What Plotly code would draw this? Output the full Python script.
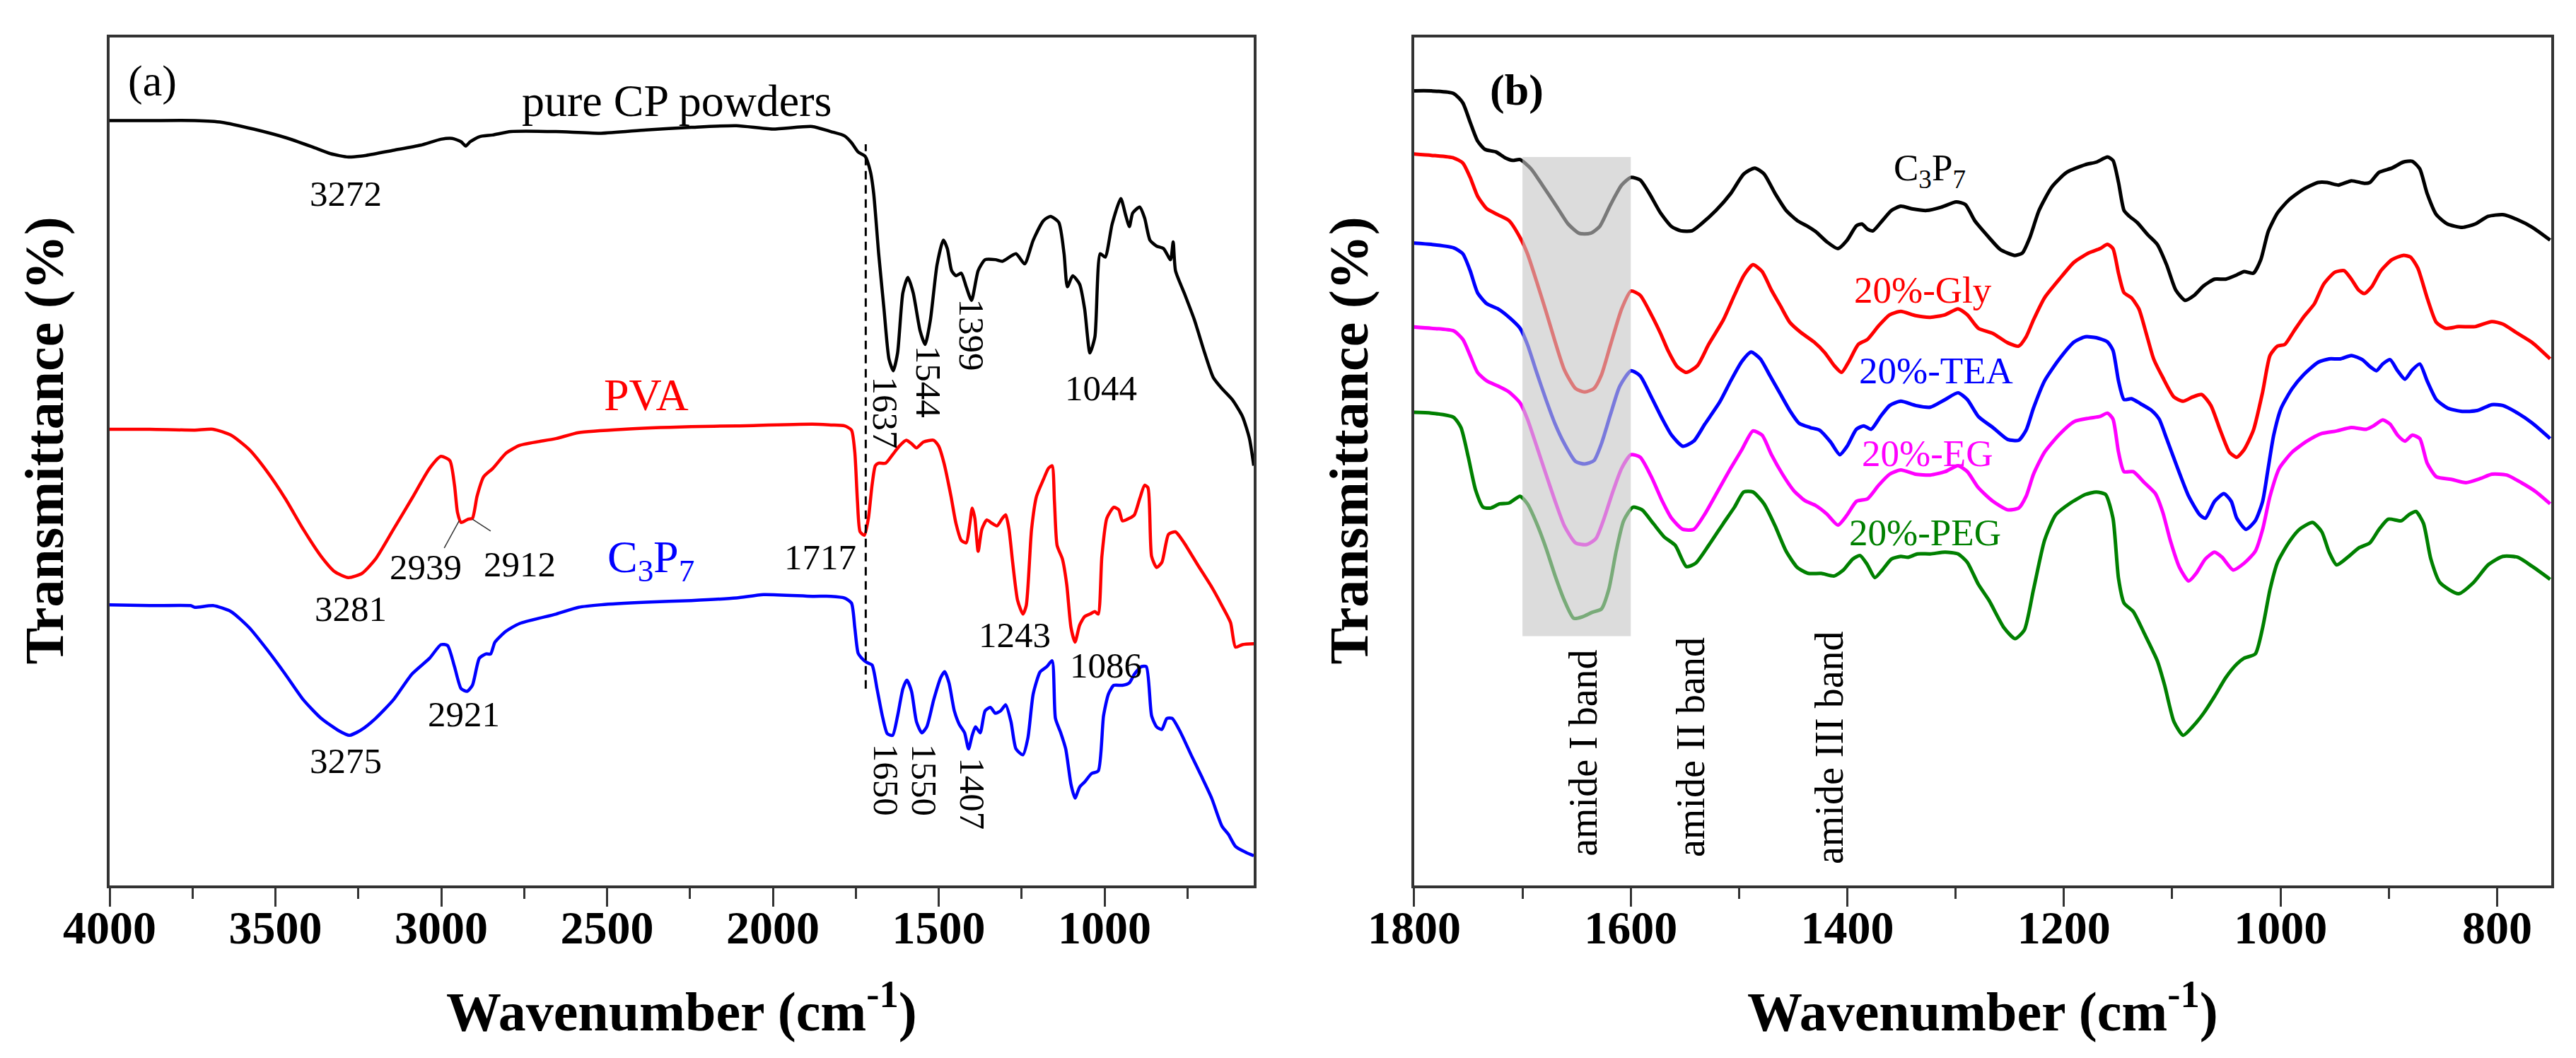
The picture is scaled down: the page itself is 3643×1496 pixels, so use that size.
import plotly.graph_objects as go
from plotly.subplots import make_subplots

# ---- panel (a): full range spectra ----
cp_wn = [4004, 3879, 3743, 3661, 3566, 3470, 3389, 3334, 3280, 3226, 3144, 3062, 3001, 2967, 2940, 2926,
         2913, 2885, 2845, 2790, 2654, 2518, 2382, 2246, 2110, 2001, 1881, 1825, 1784, 1763, 1743, 1722,
         1706, 1696, 1681, 1665, 1650, 1637, 1624, 1608, 1593, 1577, 1556, 1541, 1525, 1505, 1486, 1474,
         1461, 1448, 1432, 1417, 1401, 1381, 1360, 1329, 1308, 1267, 1241, 1215, 1184, 1163, 1138, 1122,
         1112, 1096, 1075, 1060, 1044, 1029, 1013, 998, 977, 951, 936, 925, 915, 894, 879, 863, 843, 822,
         801, 793, 786, 760, 729, 698, 672, 646, 615, 584, 563, 550]
cp_t = [90.2, 90.2, 90.2, 90.0, 89.2, 88.2, 87.1, 86.3, 85.9, 86.1, 86.7, 87.3, 88.0, 88.1, 87.7, 87.2,
        87.7, 88.3, 88.5, 88.9, 88.9, 88.7, 89.1, 89.4, 89.6, 89.2, 89.5, 88.9, 88.4, 87.6, 86.5, 86.0,
        84.2, 81.6, 74.5, 68.0, 62.1, 60.7, 62.8, 69.9, 71.7, 69.9, 65.4, 63.8, 66.7, 73.2, 76.1, 75.1,
        72.5, 71.9, 72.2, 70.6, 69.0, 72.5, 73.8, 73.8, 73.6, 74.5, 73.3, 76.1, 78.4, 78.9, 78.2, 74.5,
        70.6, 71.9, 70.9, 68.0, 62.8, 64.7, 74.5, 74.1, 78.0, 81.0, 79.0, 77.7, 79.3, 80.0, 78.7, 76.1,
        75.4, 75.1, 73.8, 75.9, 72.5, 69.9, 66.7, 62.8, 59.9, 58.6, 57.3, 55.3, 52.7, 49.5]

pva_wn = [4004, 3879, 3743, 3688, 3634, 3579, 3525, 3470, 3416, 3362, 3321, 3280, 3239, 3198, 3144, 3089,
          3035, 3001, 2974, 2960, 2951, 2940, 2919, 2906, 2892, 2872, 2844, 2804, 2763, 2654, 2586, 2450,
          2246, 2110, 1881, 1825, 1784, 1763, 1753, 1745, 1737, 1724, 1712, 1701, 1691, 1681, 1660, 1639,
          1619, 1598, 1582, 1567, 1546, 1515, 1500, 1484, 1463, 1448, 1432, 1417, 1406, 1399, 1391, 1381,
          1370, 1355, 1339, 1324, 1308, 1298, 1288, 1277, 1262, 1246, 1236, 1220, 1205, 1184, 1169, 1158,
          1151, 1143, 1127, 1114, 1101, 1089, 1075, 1060, 1044, 1029, 1019, 1008, 993, 972, 957, 946, 925,
          910, 894, 879, 869, 858, 843, 827, 807, 786, 760, 719, 677, 646, 620, 605, 584, 550]
pva_t = [53.8, 53.8, 53.7, 53.8, 53.1, 51.4, 48.8, 45.6, 42.0, 38.8, 37.0, 36.3, 36.8, 38.5, 42.0, 45.6,
         49.2, 50.6, 50.1, 47.2, 44.0, 42.8, 43.2, 43.3, 45.9, 48.2, 49.2, 51.0, 51.9, 52.7, 53.4, 53.8,
         54.1, 54.2, 54.4, 54.3, 54.2, 53.7, 51.1, 45.3, 41.7, 41.3, 43.3, 47.2, 49.5, 49.8, 49.8, 50.8,
         51.8, 52.5, 52.1, 51.6, 52.3, 52.5, 51.8, 49.8, 45.9, 42.7, 40.7, 40.4, 42.7, 44.5, 43.3, 39.4,
         42.0, 43.1, 42.7, 42.4, 43.3, 43.7, 42.0, 38.1, 33.6, 32.0, 33.0, 42.0, 45.9, 47.9, 49.2, 49.5,
         45.3, 40.1, 38.5, 35.5, 30.4, 28.7, 30.7, 31.7, 32.0, 32.3, 32.0, 38.8, 43.3, 44.6, 44.3, 43.0, 43.3,
         43.7, 45.6, 47.2, 46.9, 38.8, 37.5, 38.1, 41.4, 41.7, 40.4, 37.8, 35.2, 33.0, 31.0, 28.1, 28.4, 28.5]

c3p7a_wn = [4004, 3879, 3756, 3743, 3688, 3634, 3579, 3525, 3470, 3416, 3362, 3307, 3277, 3239, 3198, 3144,
            3089, 3035, 3001, 2981, 2960, 2940, 2922, 2906, 2885, 2865, 2851, 2838, 2804, 2763, 2654, 2586,
            2518, 2382, 2246, 2110, 2028, 1881, 1825, 1784, 1763, 1753, 1743, 1732, 1717, 1701, 1686, 1670,
            1655, 1639, 1624, 1608, 1596, 1582, 1567, 1551, 1536, 1515, 1494, 1482, 1469, 1453, 1438, 1422,
            1410, 1399, 1389, 1375, 1360, 1344, 1329, 1313, 1298, 1282, 1267, 1246, 1231, 1215, 1194, 1174,
            1158, 1148, 1132, 1117, 1101, 1089, 1075, 1060, 1039, 1019, 1003, 988, 972, 946, 925, 910, 889,
            874, 858, 843, 827, 812, 796, 770, 739, 708, 677, 646, 626, 605, 574, 550]
c3p7a_t = [33.1, 33.0, 33.0, 32.8, 33.0, 32.3, 30.4, 27.8, 24.9, 21.9, 19.7, 18.2, 17.7, 18.4, 19.7, 21.9,
           24.9, 26.8, 28.4, 28.3, 25.8, 23.2, 22.9, 23.6, 26.8, 27.3, 27.3, 28.7, 30.0, 30.9, 32.0, 32.8,
           33.1, 33.4, 33.6, 33.9, 34.3, 34.1, 34.1, 33.9, 33.3, 30.4, 27.4, 26.8, 26.3, 26.0, 23.2, 20.0,
           17.9, 17.7, 20.0, 23.2, 24.2, 22.9, 19.3, 18.0, 18.7, 21.9, 24.5, 25.2, 23.9, 20.6, 19.0, 18.0,
           16.1, 17.7, 18.7, 18.0, 20.6, 21.0, 20.3, 20.6, 21.3, 19.3, 16.1, 15.4, 17.4, 22.6, 25.2, 25.8,
           26.5, 19.7, 18.0, 16.1, 11.9, 10.3, 11.6, 12.2, 13.2, 13.5, 20.0, 22.6, 23.6, 23.6, 23.9, 24.9, 25.8,
           25.8, 20.0, 18.7, 18.4, 19.7, 19.7, 18.0, 15.4, 12.9, 10.3, 7.0, 6.0, 4.6, 3.9, 3.5]

# peak / sample labels of panel (a)
a_text = ["(a)", "pure CP powders", "3272", "PVA", "2939", "2912", "3281", "C<sub>3</sub>P<sub>7</sub>",
          "2921", "3275", "1717", "1637", "1544", "1399", "1044", "1243", "1086", "1650", "1550", "1407"]
a_wn = [3872, 2291, 3287, 2382, 3048, 2764, 3272, 2368, 2931, 3287, 1857, 1662, 1531, 1400, 1011, 1271,
        996, 1660, 1545, 1398]
a_t = [94.9, 92.5, 81.6, 57.8, 37.5, 37.9, 32.6, 38.4, 20.2, 14.7, 38.7, 55.8, 59.4, 64.9, 58.6, 29.5,
       25.9, 12.4, 12.4, 10.8]
a_angle = [0, 0, 0, 0, 0, 0, 0, 0, 0, 0, 0, 90, 90, 90, 0, 0, 0, 90, 90, 90]
a_color = ["black", "black", "black", "red", "black", "black", "black", "blue", "black", "black",
           "black", "black", "black", "black", "black", "black", "black", "black", "black", "black"]
a_size = [62, 64, 51, 64, 51, 51, 51, 64, 51, 51, 51, 51, 51, 51, 51, 51, 51, 51, 51, 51]

# leader lines for 2939 / 2912 and the dashed guide at 1717
lead1_wn, lead1_t = [2991, 2946], [39.8, 43.0]
lead2_wn, lead2_t = [2851, 2906], [41.8, 43.2]
guide_wn = 1720
guide_t = [23.2, 87.4]

# ---- panel (b): 1800-750 region ----
b_cp_wn = [1804.6, 1784.1, 1763.6, 1755.1, 1748.3, 1741.5, 1734.6, 1724.4, 1715.9, 1709.0, 1702.2, 1692.0,
           1681.7, 1668.1, 1657.8, 1647.6, 1637.4, 1628.8, 1618.6, 1608.4, 1599.8, 1591.3, 1582.8, 1572.5,
           1562.3, 1553.7, 1543.5, 1535.0, 1521.3, 1507.7, 1495.7, 1485.5, 1476.9, 1466.7, 1456.5, 1446.2,
           1437.7, 1429.2, 1418.9, 1408.7, 1400.2, 1391.6, 1386.5, 1381.4, 1376.3, 1367.7, 1359.2, 1350.7,
           1340.4, 1326.8, 1313.1, 1299.5, 1291.0, 1282.4, 1269.1, 1258.8, 1245.2, 1238.3, 1231.5, 1223.0,
           1211.0, 1197.4, 1180.3, 1170.1, 1159.8, 1154.7, 1149.6, 1144.5, 1139.4, 1132.5, 1122.3, 1113.8,
           1105.2, 1096.7, 1088.2, 1079.6, 1071.1, 1060.9, 1050.6, 1040.4, 1033.6, 1025.0, 1018.2, 1011.4,
           1002.8, 992.6, 978.9, 965.3, 956.8, 946.5, 934.6, 922.6, 917.5, 909.0, 897.1, 886.8, 878.3, 871.4,
           864.6, 856.1, 845.8, 832.2, 820.3, 808.3, 794.7, 781.0, 767.3, 751.0]
b_cp_t = [93.7, 93.7, 93.4, 92.3, 90.0, 87.8, 86.8, 86.5, 85.8, 85.5, 85.6, 84.5,
          82.6, 80.0, 78.0, 76.9, 76.9, 77.7, 80.3, 82.6, 83.5, 83.2, 81.6, 79.3,
          77.7, 77.2, 77.2, 78.0, 79.6, 81.6, 83.9, 84.6, 83.9, 81.6, 79.6, 78.4,
          77.8, 77.1, 75.9, 75.1, 76.1, 77.8, 78.0, 77.4, 77.2, 78.4, 79.6, 80.1,
          79.8, 79.6, 80.0, 80.6, 80.3, 78.4, 76.4, 75.0, 74.3, 74.6, 76.4, 79.6,
          82.4, 84.1, 85.0, 85.3, 85.9, 85.5, 82.9, 79.6, 78.9, 78.2, 76.7, 75.6,
          73.2, 70.2, 69.0, 69.6, 70.7, 71.5, 71.5, 72.0, 72.4, 72.2, 73.8, 77.1,
          79.3, 80.8, 82.1, 82.9, 82.9, 82.6, 83.1, 82.8, 82.9, 84.1, 84.6, 85.3, 85.4, 84.5,
          81.6, 79.1, 78.0, 77.6, 78.0, 78.9, 79.1, 78.5, 77.6, 76.1]

gly_wn = [1804.6, 1784.1, 1763.6, 1755.1, 1748.3, 1741.5, 1732.9, 1722.7, 1712.4, 1702.2, 1695.4, 1686.9,
          1678.3, 1669.8, 1661.3, 1651.0, 1642.5, 1634.0, 1627.1, 1618.6, 1608.4, 1599.8, 1591.3, 1581.0,
          1572.5, 1565.7, 1557.2, 1548.6, 1538.4, 1528.1, 1514.5, 1504.3, 1495.7, 1487.2, 1478.7, 1470.1,
          1461.6, 1453.1, 1442.8, 1430.9, 1420.6, 1412.1, 1405.3, 1398.5, 1389.9, 1381.4, 1371.1, 1360.9,
          1350.7, 1337.0, 1323.4, 1309.7, 1297.8, 1289.2, 1279.0, 1265.6, 1252.0, 1241.8, 1234.9, 1228.1,
          1217.9, 1204.2, 1190.6, 1176.9, 1166.7, 1159.8, 1154.7, 1149.6, 1144.5, 1137.7, 1130.8, 1124.0,
          1117.2, 1108.7, 1098.4, 1089.9, 1081.3, 1072.8, 1064.3, 1055.7, 1047.2, 1040.4, 1033.6, 1025.0,
          1016.5, 1009.7, 1002.8, 996.0, 987.5, 978.9, 968.7, 960.2, 950.0, 941.4, 934.6, 927.8, 922.6,
          915.8, 907.3, 897.1, 886.8, 880.0, 873.2, 864.6, 856.1, 847.6, 835.6, 820.3, 804.9, 794.7, 781.0,
          767.3, 751.0]
gly_t = [86.3, 86.1, 85.8, 85.2, 83.5, 81.3, 79.8, 79.1, 78.4, 76.4, 74.5, 71.2,
         67.7, 64.1, 60.8, 58.6, 58.2, 58.6, 60.2, 63.8, 68.0, 70.1, 69.6, 67.3,
         65.1, 63.1, 61.2, 60.5, 61.3, 63.8, 66.7, 69.6, 71.9, 73.2, 72.4, 70.2,
         68.3, 66.4, 65.2, 64.1, 62.8, 61.3, 60.5, 61.8, 63.8, 64.4, 66.0, 67.3,
         67.7, 67.2, 67.0, 67.3, 68.0, 67.3, 65.7, 65.1, 64.0, 63.6, 64.7, 66.7,
         69.3, 71.5, 73.5, 74.6, 75.1, 75.6, 75.1, 72.2, 69.9, 69.3, 68.0, 65.1,
         62.1, 59.9, 57.6, 57.1, 57.6, 57.9, 56.6, 53.7, 51.1, 50.5, 51.4, 53.7,
         58.2, 62.5, 63.6, 63.8, 65.4, 67.0, 68.6, 70.9, 72.3, 72.5, 71.5, 70.2, 69.8,
         70.6, 72.5, 73.8, 74.3, 74.1, 72.8, 69.3, 66.4, 65.7, 65.9, 65.9, 66.5, 66.2, 65.1,
         64.0, 62.1]

tea_wn = [1804.6, 1784.1, 1763.6, 1755.1, 1748.3, 1741.5, 1732.9, 1722.7, 1712.4, 1702.2, 1695.4, 1686.9,
          1678.3, 1669.8, 1661.3, 1651.0, 1642.5, 1634.0, 1627.1, 1618.6, 1610.1, 1599.8, 1591.3, 1581.0,
          1570.8, 1562.3, 1552.0, 1541.8, 1531.6, 1517.9, 1507.7, 1497.4, 1488.9, 1480.4, 1471.8, 1461.6,
          1453.1, 1444.5, 1434.3, 1425.8, 1415.5, 1407.0, 1400.2, 1391.6, 1384.8, 1378.0, 1369.4, 1360.9,
          1350.7, 1337.0, 1323.4, 1309.7, 1297.8, 1289.2, 1279.0, 1265.6, 1252.0, 1241.8, 1234.9, 1228.1,
          1217.9, 1204.2, 1190.6, 1180.3, 1170.1, 1159.8, 1154.7, 1149.6, 1144.5, 1137.7, 1129.1, 1118.9,
          1112.1, 1105.2, 1095.0, 1084.8, 1074.5, 1069.4, 1060.9, 1052.3, 1045.5, 1040.4, 1031.9, 1023.3,
          1016.5, 1011.4, 1006.3, 999.4, 989.2, 978.9, 965.3, 955.1, 944.8, 934.6, 924.4, 917.5, 911.4,
          905.6, 898.8, 891.9, 885.1, 878.3, 871.4, 864.6, 856.1, 845.8, 832.2, 818.5, 804.9, 794.7, 781.0,
          767.3, 751.0]
tea_t = [75.8, 75.6, 75.2, 74.5, 72.5, 69.9, 68.6, 68.0, 67.0, 65.7, 63.8, 60.5,
         57.3, 54.4, 52.1, 50.0, 49.7, 50.1, 52.1, 55.6, 58.9, 60.7, 60.1, 57.6,
         55.0, 53.1, 51.8, 52.4, 54.4, 57.0, 59.5, 61.8, 62.9, 62.1, 60.2, 57.9,
         56.0, 54.5, 54.0, 53.7, 52.3, 50.8, 51.8, 53.8, 54.2, 53.8, 55.3, 56.6,
         57.1, 56.6, 56.4, 57.3, 58.1, 57.3, 55.3, 54.0, 52.6, 52.5, 53.7, 56.3,
         59.5, 62.1, 64.1, 64.7, 64.6, 64.1, 63.1, 59.5, 57.3, 57.4, 56.8, 56.0,
         55.0, 52.7, 49.2, 45.9, 43.7, 43.3, 45.3, 46.2, 45.3, 43.3, 42.0, 43.0,
         45.3, 49.2, 53.1, 56.3, 58.6, 60.2, 61.7, 62.1, 62.1, 62.5, 62.0, 61.2, 60.7,
         61.5, 62.0, 60.7, 59.7, 60.8, 61.5, 59.5, 57.3, 56.3, 55.9, 56.0, 56.7, 56.6, 55.7,
         54.5, 52.7]

eg_wn = [1804.6, 1784.1, 1763.6, 1755.1, 1748.3, 1741.5, 1732.9, 1722.7, 1712.4, 1702.2, 1695.4, 1686.9,
         1678.3, 1669.8, 1661.3, 1651.0, 1640.8, 1632.2, 1625.4, 1616.9, 1608.4, 1599.8, 1591.3, 1581.0,
         1570.8, 1562.3, 1552.0, 1541.8, 1531.6, 1517.9, 1507.7, 1497.4, 1487.2, 1478.7, 1470.1, 1459.9,
         1449.7, 1439.4, 1429.2, 1418.9, 1408.7, 1400.2, 1391.6, 1381.4, 1371.1, 1360.9, 1350.7, 1337.0,
         1323.4, 1309.7, 1297.8, 1289.2, 1279.0, 1265.6, 1252.0, 1241.8, 1234.9, 1228.1, 1217.9, 1204.2,
         1190.6, 1176.9, 1166.7, 1159.8, 1154.7, 1149.6, 1144.5, 1136.0, 1125.7, 1115.5, 1108.7, 1101.8,
         1093.3, 1084.8, 1077.9, 1069.4, 1060.9, 1054.0, 1043.8, 1033.6, 1023.3, 1016.5, 1009.7, 1001.1,
         989.2, 975.5, 961.9, 948.2, 934.6, 920.9, 914.1, 905.6, 898.8, 891.9, 885.1, 878.3, 871.4, 864.6,
         856.1, 842.4, 828.8, 815.1, 804.9, 791.2, 777.6, 763.9, 751.0]
eg_t = [65.9, 65.7, 65.4, 64.4, 62.5, 60.5, 59.5, 58.9, 58.2, 56.9, 55.0, 51.8,
        48.5, 45.3, 42.4, 40.4, 40.2, 40.9, 43.0, 46.3, 49.2, 50.8, 50.5, 48.2,
        45.3, 43.3, 42.0, 42.0, 43.8, 46.9, 49.2, 51.4, 53.6, 53.1, 50.8, 48.5,
        46.6, 45.4, 44.8, 43.8, 42.5, 43.7, 45.3, 45.6, 47.2, 48.5, 49.0, 48.5,
        48.4, 48.8, 49.5, 48.8, 46.9, 45.3, 44.3, 44.5, 45.9, 48.5, 51.1, 53.2,
        54.7, 55.1, 55.3, 55.7, 55.0, 51.1, 48.8, 48.8, 47.5, 46.2, 44.0, 40.7,
        37.5, 35.9, 36.8, 38.5, 39.3, 38.7, 37.2, 38.0, 39.4, 42.0, 45.9, 49.2,
        51.1, 52.4, 53.3, 53.6, 54.0, 53.8, 54.2, 54.9, 54.4, 53.1, 52.4, 53.1, 52.7, 49.8,
        48.2, 47.9, 47.5, 48.0, 48.5, 48.4, 47.5, 46.4, 45.0]

peg_wn = [1804.6, 1784.1, 1763.6, 1756.8, 1750.0, 1743.2, 1736.3, 1729.5, 1721.0, 1712.4, 1702.2, 1695.4,
          1686.9, 1678.3, 1669.8, 1661.3, 1652.7, 1644.2, 1635.7, 1627.1, 1620.3, 1613.5, 1606.6, 1598.1,
          1589.6, 1579.3, 1569.1, 1558.9, 1548.6, 1540.1, 1528.1, 1514.5, 1504.3, 1495.7, 1487.2, 1476.9,
          1466.7, 1456.5, 1446.2, 1436.0, 1424.1, 1412.1, 1403.6, 1395.0, 1388.2, 1381.4, 1374.6, 1367.7,
          1359.2, 1350.7, 1343.8, 1335.3, 1323.4, 1309.7, 1297.8, 1289.2, 1279.0, 1269.1, 1255.4, 1245.2,
          1236.6, 1228.1, 1217.9, 1207.6, 1194.0, 1180.3, 1170.1, 1161.5, 1154.7, 1149.6, 1144.5, 1136.0,
          1125.7, 1113.8, 1107.0, 1098.4, 1089.9, 1081.3, 1071.1, 1060.9, 1050.6, 1040.4, 1033.6, 1023.3,
          1016.5, 1009.7, 1002.8, 992.6, 982.4, 970.4, 961.9, 955.1, 948.2, 938.0, 927.8, 917.5, 909.0,
          900.5, 888.5, 881.7, 874.9, 868.0, 861.2, 852.7, 835.6, 822.0, 808.3, 794.7, 781.0, 767.3, 751.0]
peg_t = [55.8, 55.7, 55.2, 54.0, 50.5, 46.6, 44.6, 44.5, 45.0, 45.1, 45.9, 45.0,
         42.7, 39.8, 36.5, 33.6, 31.5, 31.7, 32.2, 32.6, 34.9, 39.4, 43.0, 44.6,
         44.3, 42.7, 41.1, 40.1, 37.6, 38.0, 40.1, 42.7, 44.6, 46.4, 46.4, 45.0,
         42.4, 39.4, 37.5, 36.8, 36.8, 36.5, 37.2, 38.5, 38.9, 37.8, 36.3, 37.2,
         38.5, 38.8, 38.7, 39.1, 39.1, 39.3, 39.1, 38.1, 35.5, 33.6, 30.4, 29.1,
         30.1, 34.9, 40.7, 43.7, 45.1, 46.1, 46.4, 46.1, 43.3, 36.2, 33.3, 32.3,
         29.7, 26.5, 23.6, 19.3, 17.7, 18.7, 20.3, 22.3, 24.5, 26.1, 26.8, 27.3,
         30.4, 34.9, 38.1, 40.4, 42.0, 42.8, 41.7, 39.3, 37.8, 38.7, 39.8, 40.4, 42.0,
         43.2, 43.0, 43.7, 44.1, 42.7, 38.5, 35.7, 34.4, 35.7, 37.8, 38.8, 38.7, 37.6, 36.1]

b_text = ["(b)", "C<sub>3</sub>P<sub>7</sub>", "20%-Gly", "20%-TEA", "20%-EG", "20%-PEG",
          "amide I band", "amide II band", "amide III band"]
b_wn = [1705, 1324, 1330, 1318, 1326, 1328, 1644, 1545, 1417]
b_t = [93.8, 84.3, 70.2, 60.7, 51.0, 41.6, 15.6, 16.3, 16.3]
b_angle = [0, 0, 0, 0, 0, 0, -90, -90, -90]
b_color = ["black", "black", "red", "blue", "magenta", "green", "black", "black", "black"]

band_wn = [1700, 1600]
band_t = [29.4, 85.9]

SERIF = "Liberation Serif"

fig = make_subplots(rows=1, cols=2)

for xs, ys, col in [(cp_wn, cp_t, "black"), (pva_wn, pva_t, "red"), (c3p7a_wn, c3p7a_t, "blue")]:
    fig.add_trace(go.Scatter(x=xs, y=ys, mode="lines", line=dict(color=col, width=4.5, shape="spline", smoothing=0.6),
                             showlegend=False), row=1, col=1)
for xs, ys in [(lead1_wn, lead1_t), (lead2_wn, lead2_t)]:
    fig.add_trace(go.Scatter(x=xs, y=ys, mode="lines", line=dict(color="#333", width=1.5), showlegend=False),
                  row=1, col=1)
fig.add_trace(go.Scatter(x=[guide_wn, guide_wn], y=guide_t, mode="lines",
                         line=dict(color="black", width=3, dash="12px,8px"), showlegend=False), row=1, col=1)

for xs, ys, col in [(b_cp_wn, b_cp_t, "black"), (gly_wn, gly_t, "red"), (tea_wn, tea_t, "blue"),
                    (eg_wn, eg_t, "magenta"), (peg_wn, peg_t, "green")]:
    fig.add_trace(go.Scatter(x=xs, y=ys, mode="lines", line=dict(color=col, width=5, shape="spline", smoothing=0.6),
                             showlegend=False), row=1, col=2)

fig.add_shape(type="rect", xref="x2", yref="y2", x0=band_wn[0], x1=band_wn[1], y0=band_t[0], y1=band_t[1],
              fillcolor="rgb(197,197,197)", opacity=0.61, line_width=0, layer="above")

for txt, x, y, ang, col, sz in zip(a_text, a_wn, a_t, a_angle, a_color, a_size):
    fig.add_annotation(x=x, y=y, xref="x", yref="y", text=txt, showarrow=False, textangle=ang,
                       font=dict(family=SERIF, size=sz, color=col), xanchor="center", yanchor="middle")
for txt, x, y, ang, col in zip(b_text, b_wn, b_t, b_angle, b_color):
    bold = txt == "(b)"
    sz = 62 if bold else (56 if ang else 53)
    fig.add_annotation(x=x, y=y, xref="x2", yref="y2", text=txt, showarrow=False, textangle=ang,
                       font=dict(family=SERIF, size=sz, color=col, weight="bold" if bold else "normal"),
                       xanchor="center", yanchor="middle")

# axis titles
for xr, yr, xt in [("x domain", "y domain", -0.0569), ("x2 domain", "y2 domain", -0.0572)]:
    fig.add_annotation(x=xt, y=0.525, xref=xr, yref=yr, text="Transmittance (%)", textangle=-90,
                       showarrow=False, xanchor="center", yanchor="middle",
                       font=dict(family=SERIF, size=78, color="black", weight="bold"))
    fig.add_annotation(x=0.5, y=-0.1435, xref=xr, yref=yr, text="Wavenumber (cm<sup>-1</sup>)",
                       showarrow=False, xanchor="center", yanchor="middle",
                       font=dict(family=SERIF, size=78, color="black", weight="bold"))

frame = dict(showline=True, linecolor="#333", linewidth=4, mirror=True, showgrid=False, zeroline=False)
tickfont = dict(family=SERIF, size=66, color="black", weight="bold")

fig.update_xaxes(range=[4000, 550], tickvals=[4000, 3500, 3000, 2500, 2000, 1500, 1000], ticks="outside",
                 ticklen=26, tickwidth=3, tickcolor="#333", tickfont=tickfont, ticklabelstandoff=-27,
                 minor=dict(tickvals=[3750, 3250, 2750, 2250, 1750, 1250, 750], ticks="outside", ticklen=15,
                            tickwidth=3, tickcolor="#333"),
                 domain=[0, 0.4686], row=1, col=1, **frame)
fig.update_xaxes(range=[1800, 750], tickvals=[1800, 1600, 1400, 1200, 1000, 800], ticks="outside",
                 ticklen=26, tickwidth=3, tickcolor="#333", tickfont=tickfont, ticklabelstandoff=-27,
                 minor=dict(tickvals=[1700, 1500, 1300, 1100, 900], ticks="outside", ticklen=15,
                            tickwidth=3, tickcolor="#333"),
                 domain=[0.5343, 1], row=1, col=2, **frame)
fig.update_yaxes(range=[0, 100], showticklabels=False, ticks="", **frame)

fig.update_layout(width=3643, height=1496, margin=dict(l=147, r=43, t=45, b=252),
                  plot_bgcolor="white", paper_bgcolor="white", showlegend=False)

fig.write_html("out.html")
